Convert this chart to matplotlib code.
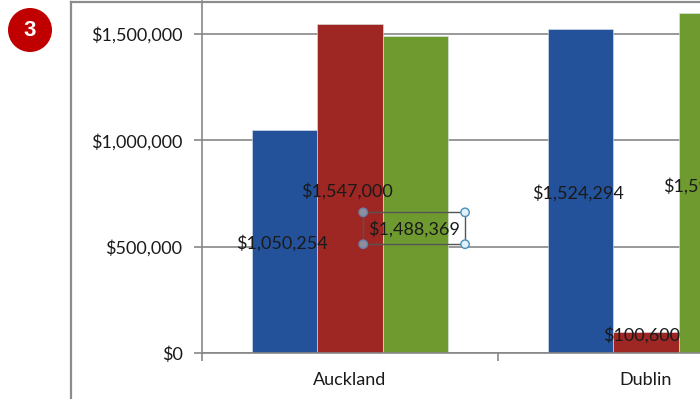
import matplotlib
matplotlib.use("Agg")
import matplotlib.pyplot as plt
from matplotlib.patches import Rectangle, Circle
from matplotlib.lines import Line2D
from matplotlib.ticker import FuncFormatter
import numpy as np

plt.rcParams['font.family'] = ['Lato', 'DejaVu Sans']

cities = ["Auckland", "Dublin"]
series_a = [1050254, 1524294]
series_b = [1547000, 100600]
series_c = [1488369, 1598000]
series_colors = ["#23519A", "#9E2724", "#6F9A30"]
ytick_values = [0, 500000, 1000000, 1500000]

# per-label nudges (points) for labels that were dragged away from bar centres
label_nudges = {
    (0, 0): (-2, -1), (0, 1): (-2, -2), (0, 2): (-1, -24.5),
    (1, 0): (-2, -1.5), (1, 1): (-3, 5), (1, 2): (-2, -2),
}

FS = 13
W, H = 700, 399
fig = plt.figure(figsize=(W / 100, H / 100), dpi=100)

ax_left, ax_right, ax_bottom, ax_top = 202, 700, 353, 1
ax = fig.add_axes([ax_left / W, (H - ax_bottom) / H,
                   (ax_right - ax_left) / W, (ax_bottom - ax_top) / H])

cat_px = 296.0
px_per_unit = 106.33 / 500000

bw = 65.5 / cat_px
x = np.arange(len(cities))
all_series = [series_a, series_b, series_c]
texts = {}
for si, (vals, col) in enumerate(zip(all_series, series_colors)):
    xs = x + (si - 1) * bw
    ax.bar(xs, vals, width=bw, color=col, edgecolor="#dfe6ee", linewidth=0.4, zorder=2)
    for ci, (xv, v) in enumerate(zip(xs, vals)):
        dx, dy = label_nudges[(ci, si)]
        t = ax.annotate(f"${v:,.0f}", (xv, v / 2), xytext=(dx, dy),
                        textcoords="offset points", ha="center", va="center",
                        fontsize=FS, color="#1a1a1a", zorder=5,
                        annotation_clip=False)
        texts[(ci, si)] = t

ax.set_yticks(ytick_values)
ax.yaxis.set_major_formatter(FuncFormatter(lambda v, p: f"${v:,.0f}"))
ax.grid(axis="y", color="#878787", linewidth=1.2, zorder=0)
ax.set_axisbelow(True)

ax.set_xticks(x)
ax.set_xticklabels(cities)
ax.set_xticks(np.arange(-0.5, len(cities) + 0.5, 1.0), minor=True)
ax.tick_params(axis="x", which="major", length=0, pad=14, labelsize=FS, labelcolor="#1a1a1a")
ax.tick_params(axis="x", which="minor", length=6, width=1.2, color="#878787", direction="out")
ax.tick_params(axis="y", length=6, width=1.2, color="#878787", pad=8, labelsize=FS,
               labelcolor="#1a1a1a")

# limits set last so the tick setters cannot widen them
ax.set_xlim(-0.5, -0.5 + (ax_right - ax_left) / cat_px)
ax.set_ylim(0, (ax_bottom - ax_top) / px_per_unit)

for s in ["top", "right"]:
    ax.spines[s].set_visible(False)
for s in ["left", "bottom"]:
    ax.spines[s].set_color("#878787")
    ax.spines[s].set_linewidth(1.2)

# chart-area frame (top and left edges)
fig.add_artist(Line2D([71 / W, 1], [1 - 1.5 / H, 1 - 1.5 / H], color="#8c8c8c", lw=1.6,
                      transform=fig.transFigure))
fig.add_artist(Line2D([71 / W, 71 / W], [0, 1 - 1.5 / H], color="#8c8c8c", lw=1.6,
                      transform=fig.transFigure))

# selection frame with handles around the dragged label
fig.canvas.draw()
sel = texts[(0, 2)]
bb = sel.get_window_extent()
x0, x1 = bb.x0 - 5, bb.x1 + 5
y0, y1 = bb.y0 - 7, bb.y1 + 8
fig.add_artist(Rectangle((x0 / W, y0 / H), (x1 - x0) / W, (y1 - y0) / H,
                         transform=fig.transFigure, fill=False,
                         edgecolor="#555555", linewidth=1.0, zorder=6))
for hx, hy, fc, ec in [(x0, y0, "#8d8f9e", "#6a7fa8"), (x0, y1, "#8d8f9e", "#6a7fa8"),
                       (x1, y0, "#e4f0f8", "#4a8fc0"), (x1, y1, "#e4f0f8", "#4a8fc0")]:
    fig.add_artist(Circle((hx, hy), 4.2, transform=None, facecolor=fc,
                          edgecolor=ec, linewidth=1.0, zorder=7))

# step badge
fig.add_artist(Circle((30, H - 30), 22, transform=None, facecolor="#C00000",
                      edgecolor="none", zorder=8))
fig.text(30 / W, (H - 30) / H, "3", ha="center", va="center", color="white",
         fontsize=16, fontweight="bold", family=["Liberation Sans", "DejaVu Sans"], zorder=9)

fig.savefig("out.png", dpi=100)
